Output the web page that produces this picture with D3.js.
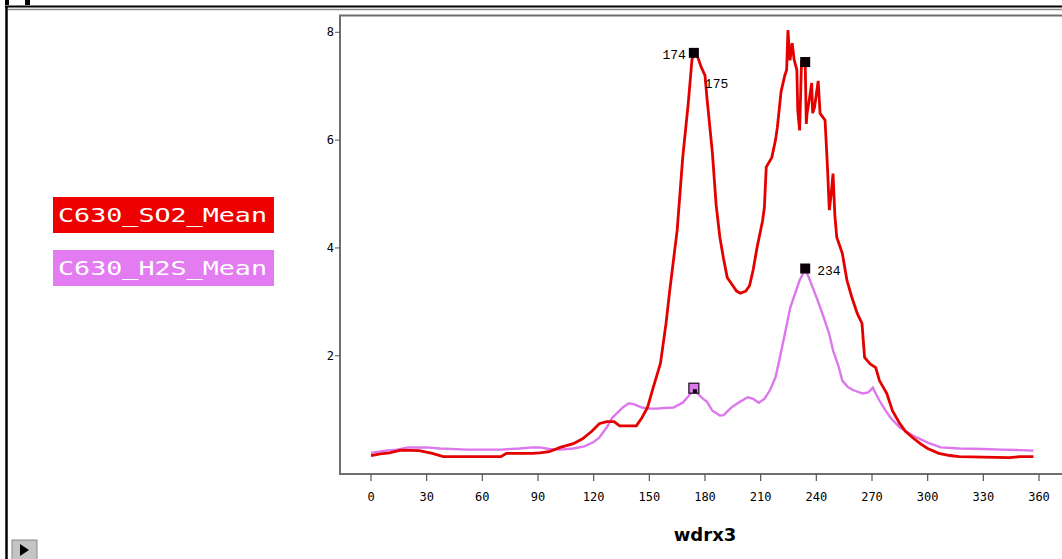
<!DOCTYPE html>
<html>
<head>
<meta charset="utf-8">
<script src="https://cdn.jsdelivr.net/npm/d3@7"></script>
<style>
body { margin: 0; background: #fff; }
svg { display: block; }
.tick-label { font-family: "DejaVu Sans Mono", monospace; font-size: 12px; fill: #000; }
.note { font-family: "Liberation Mono", monospace; font-size: 13px; fill: #000; }
</style>
</head>
<body>
<div id="chart"></div>
<script>
// wind direction (deg) and mean concentration
const so2Deg = [0,5,10,16,26,33,39,50,70,73,87,91,96,102,109,114,119,123,127,131,134,143,146,149,152,156,159,161,165,168,171,173,174,176,178,180,181,184,186,188,190,192,194,197,199,202,204,206,208,211,212,213,216,218,219,221,223,224,224.7,225.8,227,228,229.5,230,231,232,233,234,234.6,235,236,237.5,238,239,241,242,243,244.7,246,247,248,249,250,251,254,256.5,259,262,264.6,266,269,272,274,278,281,285,288,292,296,300,306,312,317,330,344,350,357];
const so2Val = [0.15,0.18,0.2,0.25,0.24,0.19,0.13,0.13,0.13,0.19,0.19,0.2,0.22,0.3,0.37,0.46,0.6,0.74,0.78,0.78,0.7,0.7,0.85,1.04,1.4,1.86,2.6,3.21,4.33,5.68,6.69,7.5,7.6,7.55,7.35,7.2,6.8,5.76,4.8,4.2,3.8,3.45,3.35,3.2,3.16,3.2,3.3,3.6,4.0,4.5,4.75,5.5,5.68,6.0,6.24,6.9,7.2,7.3,8.04,7.48,7.8,7.5,7.3,6.55,6.18,7.43,7.4,7.43,6.3,6.5,6.7,7.06,6.5,6.6,7.1,6.5,6.45,6.37,5.5,4.7,5.0,5.38,4.6,4.2,3.9,3.4,3.1,2.79,2.6,1.97,1.85,1.78,1.54,1.3,0.98,0.74,0.6,0.48,0.37,0.28,0.19,0.15,0.13,0.12,0.11,0.13,0.13];

const h2sDeg = [0,8,14,20,25,30,37,52,70,80,87,91,96,102,109,115,120,123,127,130,133,136,139,142,146,150,154,158,163,168,171,174,176,179,181,184,188,190,193,195,199,203,206,209,212,215,218,220,223,226,229,231,234,236,238,241,244,247,249,252,254,257,260,265,268,270.5,272,274,277,280,285,292,300,307,317,330,339,350,357];
const h2sVal = [0.2,0.24,0.26,0.3,0.3,0.3,0.28,0.26,0.26,0.28,0.3,0.3,0.27,0.26,0.28,0.32,0.4,0.48,0.67,0.85,0.95,1.05,1.12,1.1,1.04,1.02,1.02,1.03,1.04,1.13,1.25,1.38,1.3,1.2,1.15,0.98,0.89,0.9,1.0,1.06,1.15,1.23,1.2,1.13,1.2,1.36,1.6,1.91,2.4,2.9,3.2,3.4,3.6,3.45,3.27,3.0,2.71,2.4,2.1,1.8,1.54,1.42,1.36,1.3,1.32,1.41,1.3,1.17,1.0,0.85,0.67,0.52,0.39,0.3,0.28,0.27,0.26,0.25,0.24];

const seriesNames = ["C630_SO2_Mean", "C630_H2S_Mean"];
const seriesColors = ["#e50000", "#dc78ec"];
const boxColors = ["#ee0000", "#e27cf0"];

const xTicks = [0,30,60,90,120,150,180,210,240,270,300,330,360];
const yTicks = [2,4,6,8];
const xLabel = "wdrx3";

// highlighted points: series index, direction
const markSeries = [0, 0, 1, 1];
const markDeg = [174, 234, 174, 234];
const noteText = ["174", "175", "234"];
const noteSeries = [0, 0, 1];
const noteDeg = [174, 174, 234];

const W = 1062, H = 559;
const svg = d3.select('#chart').append('svg')
	.attr('width', W)
	.attr('height', H);

// window frame
svg.append('rect').attr('x', 5).attr('y', 0).attr('width', 4).attr('height', 5).attr('fill', '#000');
svg.append('rect').attr('x', 25).attr('y', 0).attr('width', 5).attr('height', 5).attr('fill', '#000');
svg.append('line').attr('x1', 5).attr('x2', W).attr('y1', 6.5).attr('y2', 6.5)
	.attr('stroke', '#000').attr('stroke-width', 2);
svg.append('line').attr('x1', 6.5).attr('x2', 6.5).attr('y1', 6).attr('y2', H)
	.attr('stroke', '#000').attr('stroke-width', 2.5);
svg.append('line').attr('x1', 8).attr('x2', W).attr('y1', 9.5).attr('y2', 9.5)
	.attr('stroke', '#8a8a8a').attr('stroke-width', 1.5);

// scales
let x = d3.scaleLinear().domain([0, 360]).range([371, 1039]);
let y = d3.scaleLinear().domain([0, 8]).range([463.6, 32.3]);
const plotLeft = 340, plotTop = 15.5, plotBottom = 474;

// plot box
svg.append('path')
	.attr('d', `M${W + 5},${plotTop}H${plotLeft}V${plotBottom}H${W + 5}`)
	.attr('fill', 'none')
	.attr('stroke', '#6e6e6e')
	.attr('stroke-width', 2);

// y axis ticks
let yAxis = svg.append('g').attr('id', 'y-axis');
yAxis.selectAll('line').data(yTicks).enter().append('line')
	.attr('x1', plotLeft - 5).attr('x2', plotLeft)
	.attr('y1', d => y(d)).attr('y2', d => y(d))
	.attr('stroke', '#555').attr('stroke-width', 1);
yAxis.selectAll('text').data(yTicks).enter().append('text')
	.attr('class', 'tick-label')
	.attr('x', plotLeft - 6)
	.attr('y', d => y(d) + 4)
	.attr('text-anchor', 'end')
	.text(d => d);

// x axis ticks
let xAxis = svg.append('g').attr('id', 'x-axis');
xAxis.selectAll('line').data(xTicks).enter().append('line')
	.attr('x1', d => x(d)).attr('x2', d => x(d))
	.attr('y1', plotBottom).attr('y2', plotBottom + 7)
	.attr('stroke', '#555').attr('stroke-width', 1.2);
xAxis.selectAll('text').data(xTicks).enter().append('text')
	.attr('class', 'tick-label')
	.attr('x', d => x(d))
	.attr('y', 501)
	.attr('text-anchor', 'middle')
	.text(d => d);

svg.append('text')
	.attr('x', x(180))
	.attr('y', 541)
	.attr('text-anchor', 'middle')
	.style('font-family', '"DejaVu Sans", sans-serif')
	.style('font-weight', 'bold')
	.style('font-size', '18px')
	.text(xLabel);

// lines
const seriesPts = [
	so2Deg.map((d, i) => [d, so2Val[i]]),
	h2sDeg.map((d, i) => [d, h2sVal[i]])
];
let line = d3.line().x(d => x(d[0])).y(d => y(d[1]));
[1, 0].forEach(function (s) {
	svg.append('path')
		.datum(seriesPts[s])
		.attr('d', line)
		.attr('fill', 'none')
		.attr('stroke', seriesColors[s])
		.attr('stroke-width', s === 0 ? 2.8 : 2.4)
		.attr('stroke-linejoin', 'miter');
});

function valueAt(s, deg) {
	let pts = seriesPts[s];
	for (let i = 0; i < pts.length; i++) if (pts[i][0] === deg) return pts[i][1];
	return 0;
}

// markers
markSeries.forEach(function (s, i) {
	let cx = x(markDeg[i]), cy = y(valueAt(s, markDeg[i]));
	if (s === 1 && markDeg[i] === 174) {
		svg.append('rect').attr('x', cx - 5).attr('y', cy - 6).attr('width', 10).attr('height', 10)
			.attr('fill', seriesColors[1]).attr('stroke', '#1a0a20').attr('stroke-width', 1.2);
		svg.append('rect').attr('x', cx - 1).attr('y', cy).attr('width', 4).attr('height', 4).attr('fill', '#000');
	} else {
		svg.append('rect').attr('x', cx - 5).attr('y', cy - 6).attr('width', 10).attr('height', 10)
			.attr('fill', '#0a0008');
	}
});

// point notes
noteText.forEach(function (t, i) {
	let cx = x(noteDeg[i]), cy = y(valueAt(noteSeries[i], noteDeg[i]));
	let n = svg.append('text').attr('class', 'note').text(t);
	if (i === 0) n.attr('x', cx - 8).attr('y', cy + 5).attr('text-anchor', 'end');
	else if (i === 1) n.attr('x', cx + 11).attr('y', cy + 34);
	else n.attr('x', cx + 12).attr('y', cy + 5);
});

// legend
seriesNames.forEach(function (name, i) {
	let top = 197 + i * 53;
	svg.append('rect').attr('x', 53).attr('y', top).attr('width', 221).attr('height', 36)
		.attr('fill', boxColors[i]);
	svg.append('text')
		.attr('x', 58).attr('y', top + 25)
		.attr('textLength', 209)
		.attr('lengthAdjust', 'spacingAndGlyphs')
		.style('font-family', '"DejaVu Sans Mono", monospace')
		.style('font-size', '19px')
		.style('fill', '#fff')
		.text(name);
});

// play button at bottom left
svg.append('rect').attr('x', 12).attr('y', 540).attr('width', 25).attr('height', 20)
	.attr('fill', '#c4c4c4').attr('stroke', '#888').attr('stroke-width', 1);
svg.append('path').attr('d', 'M20,544L29,550L20,556Z').attr('fill', '#000');
</script>
</body>
</html>
